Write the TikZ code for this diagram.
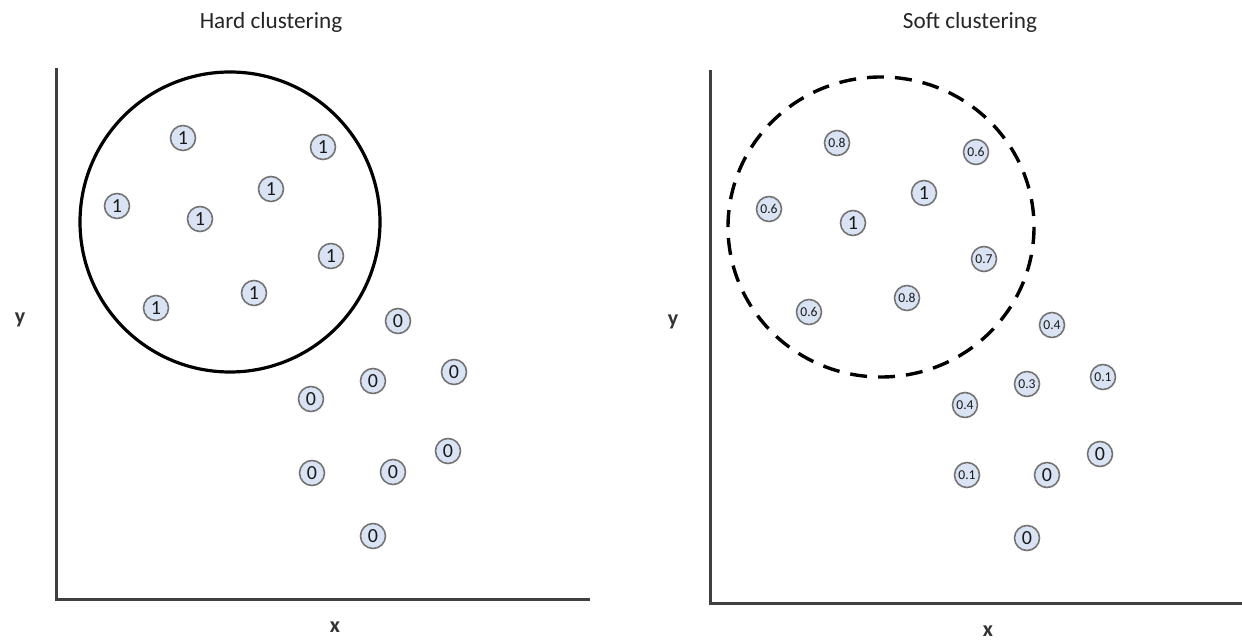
\documentclass[tikz,border=0pt]{standalone}
\usepackage{fontspec}
\setmainfont{Carlito}
\definecolor{ptfill}{RGB}{218,227,243}
\begin{document}
\begin{tikzpicture}[x=0.5pt,y=-0.5pt,
  axisline/.style={line width=1.5pt,draw=black!75},
  title/.style={font=\fontsize{11.6}{13}\selectfont,text=black!85},
  axlabel/.style={font=\fontsize{11}{13}\selectfont\bfseries,text=black!80},
  pt/.style={circle,draw=black!55,line width=0.8pt,fill=ptfill,inner sep=0pt,minimum size=12.5pt,
    font=\fontsize{10}{12}\selectfont,text=black!90},
  ptsm/.style={pt,font=\fontsize{6.8}{8}\selectfont}]
\useasboundingbox (0,0) rectangle (1242,640);

% ---------- hard clustering ----------
\node[title] (th) at (271,22) {Hard clustering};
\coordinate (ha) at (56,68);
\coordinate (ho) at (56,600);
\coordinate (hb) at (590,600);
\draw[axisline] (ha) -- (ho) -- (hb);
\node[axlabel] (hy) at (20,320) {y};
\node[axlabel] (hx) at (335,627) {x};
\draw[line width=1.6pt] (230,222) circle (150);

\node[pt] (h1) at (183,138) {1};
\node[pt] (h2) at (323,147) {1};
\node[pt] (h3) at (117,206) {1};
\node[pt] (h4) at (200,219) {1};
\node[pt] (h5) at (271,189) {1};
\node[pt] (h6) at (331,256) {1};
\node[pt] (h7) at (156,308) {1};
\node[pt] (h8) at (254,293) {1};

\node[pt] (h9) at (398,321) {0};
\node[pt] (h10) at (373,381) {0};
\node[pt] (h11) at (454,372) {0};
\node[pt] (h12) at (311,399) {0};
\node[pt] (h13) at (448,451) {0};
\node[pt] (h14) at (312,473) {0};
\node[pt] (h15) at (393,472) {0};
\node[pt] (h16) at (373,536) {0};

% ---------- soft clustering ----------
\node[title] (ts) at (970,22) {Soft clustering};
\coordinate (sa) at (710,70);
\coordinate (so) at (710,604);
\coordinate (sb) at (1242,604);
\draw[axisline] (sa) -- (so) -- (sb);
\node[axlabel] (sy) at (673,322) {y};
\node[axlabel] (sx) at (988,631) {x};
\draw[line width=1.7pt,dash pattern=on 8.5pt off 5.5pt] (881,227) ellipse (153 and 150);

\node[ptsm] (s1) at (837,143) {0.8};
\node[ptsm] (s2) at (976,152) {0.6};
\node[ptsm] (s3) at (769,209) {0.6};
\node[pt] (s4) at (853,223) {1};
\node[pt] (s5) at (924,193) {1};
\node[ptsm] (s6) at (984,259) {0.7};
\node[ptsm] (s7) at (907,298) {0.8};
\node[ptsm] (s8) at (809,312) {0.6};

\node[ptsm] (s9) at (1052,325) {0.4};
\node[ptsm] (s10) at (1027,384) {0.3};
\node[ptsm] (s11) at (1103,377) {0.1};
\node[ptsm] (s12) at (965,405) {0.4};
\node[pt] (s13) at (1100,454) {0};
\node[ptsm] (s14) at (967,475) {0.1};
\node[pt] (s15) at (1047,475) {0};
\node[pt] (s16) at (1027,538) {0};
\end{tikzpicture}
\end{document}
